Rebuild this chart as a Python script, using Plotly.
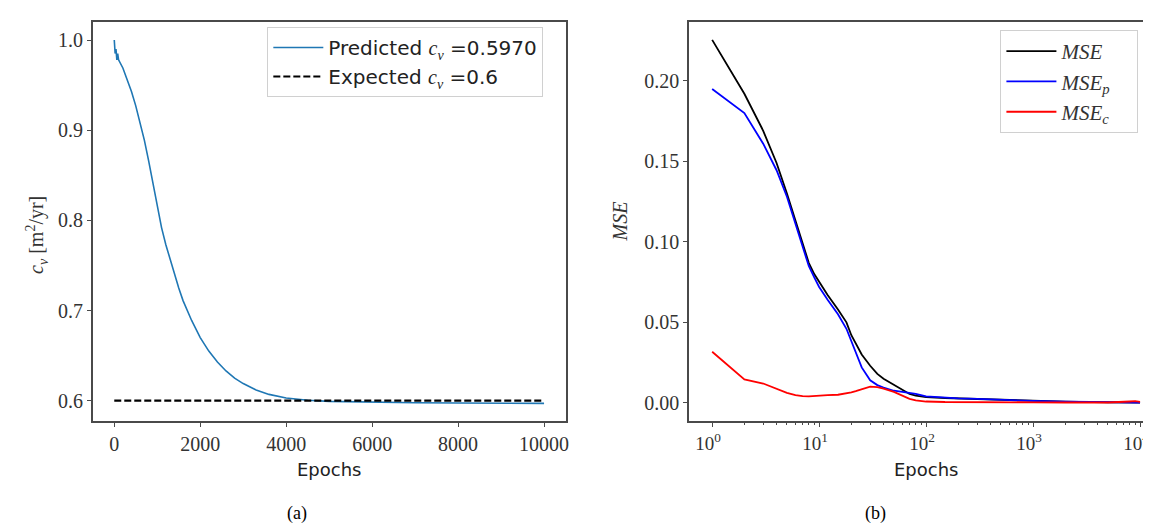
import plotly.graph_objects as go

# ---------------- data ----------------
cv_epochs = [0, 20, 40, 60, 80, 100, 200, 300, 400, 500, 600, 700, 800, 900, 1000, 1100,
             1200, 1300, 1400, 1500, 1600, 1800, 2000, 2200, 2400, 2600, 2800, 3000, 3300,
             3600, 4000, 4500, 5000, 6000, 7000, 8000, 9000, 10000]
cv_pred = [1.0, 0.985, 0.99, 0.978, 0.985, 0.978, 0.969, 0.957, 0.943, 0.927, 0.909, 0.889,
           0.866, 0.840, 0.814, 0.792, 0.773, 0.756, 0.740, 0.725, 0.711, 0.689, 0.670,
           0.655, 0.643, 0.633, 0.625, 0.619, 0.612, 0.607, 0.603, 0.6005, 0.5993, 0.5983,
           0.5977, 0.5974, 0.5972, 0.597]
exp_epochs = [0, 10000]
exp_vals = [0.6, 0.6]

mse_epochs = [1, 2, 3, 4, 5, 6, 7, 8, 9, 10, 12, 15, 18, 20, 22, 25, 30, 35, 40, 50, 60, 70,
              80, 100, 150, 200, 300, 500, 1000, 2000, 5000, 8000, 9000, 10000]
mse_total = [0.2255, 0.192, 0.169, 0.149, 0.130, 0.113, 0.098, 0.087, 0.080, 0.075, 0.067,
             0.058, 0.050, 0.042, 0.037, 0.030, 0.023, 0.018, 0.015, 0.011, 0.008, 0.0055,
             0.0045, 0.0035, 0.003, 0.0027, 0.0024, 0.0018, 0.0012, 0.0007, 0.0003, 0.0002,
             0.0002, 0.0002]
mse_p = [0.195, 0.180, 0.161, 0.1445, 0.128, 0.111, 0.096, 0.085, 0.078, 0.072, 0.064,
         0.055, 0.046, 0.038, 0.032, 0.022, 0.014, 0.011, 0.0095, 0.0075, 0.0068, 0.0062,
         0.0055, 0.0040, 0.003, 0.0027, 0.0024, 0.0018, 0.0012, 0.0007, 0.0003, 0.0002,
         0.0002, 0.0002]
mse_c = [0.0317, 0.0145, 0.012, 0.0089, 0.0062, 0.0048, 0.0041, 0.0040, 0.0043, 0.0046,
         0.0048, 0.0050, 0.0058, 0.0065, 0.0072, 0.0085, 0.0100, 0.0097, 0.0088, 0.0068,
         0.0045, 0.0025, 0.0015, 0.0008, 0.0005, 0.0004, 0.0003, 0.0003, 0.0003, 0.0002,
         0.0002, 0.0008, 0.0010, 0.0006]

left_xticks = [0, 2000, 4000, 6000, 8000, 10000]
left_yticks = [0.6, 0.7, 0.8, 0.9, 1.0]
right_xticks = [1, 10, 100, 1000, 10000]
right_xticktext = ["10<sup>0</sup>", "10<sup>1</sup>", "10<sup>2</sup>", "10<sup>3</sup>", "10<sup>4</sup>"]
right_yticks = [0.0, 0.05, 0.10, 0.15, 0.20]

# ---------------- style ----------------
W, H = 1151, 530
SERIF = "Liberation Serif"
SANS = "DejaVu Sans"
FRAME = "#4a4a4a"
TICKFONT = dict(family=SERIF, size=20, color="#333333")


def px_x(p):
    return p / W


def px_y(p):
    return 1 - p / H


CV = "<span style=\"font-family:'Liberation Serif';font-style:italic\">c<sub>v</sub></span>"
PAD = "&nbsp;" * 4

fig = go.Figure()

fig.add_trace(go.Scatter(
    x=cv_epochs, y=cv_pred, mode="lines", xaxis="x", yaxis="y",
    line=dict(color="#1f77b4", width=1.6),
    name="Predicted " + CV + " =0.5970",
    legend="legend", legendgroup="a1"))
fig.add_trace(go.Scatter(
    x=exp_epochs, y=exp_vals, mode="lines", xaxis="x", yaxis="y",
    line=dict(color="black", width=2.2, dash="7px,3px"),
    name="Expected " + CV + " =0.6",
    legend="legend", legendgroup="a2"))

for vals, col, nm, grp in [
    (mse_total, "black", "<i>MSE</i>", "b1"),
    (mse_p, "#0000ff", "<i>MSE<sub>p</sub></i>", "b2"),
    (mse_c, "#ff0000", "<i>MSE<sub>c</sub></i>", "b3"),
]:
    fig.add_trace(go.Scatter(
        x=mse_epochs, y=vals, mode="lines", xaxis="x2", yaxis="y2",
        line=dict(color=col, width=1.8), name=nm + PAD,
        legend="legend2", legendgroup=grp))

ydom = [px_y(413), px_y(14)]
axis_common = dict(showgrid=False, zeroline=False, showline=True, linecolor=FRAME,
                   linewidth=1.8, ticks="outside", ticklen=4, tickcolor=FRAME)

minor_vals = []
for dec in [1, 10, 100, 1000]:
    for m in range(2, 10):
        minor_vals.append(m * dec)

fig.update_layout(
    width=W, height=H,
    margin=dict(l=0, r=0, t=0, b=0),
    paper_bgcolor="white", plot_bgcolor="white",
    xaxis=dict(domain=[px_x(85), px_x(559)], range=[-500, 10500], anchor="y",
               tickvals=left_xticks, tickformat="d", mirror=True, tickfont=TICKFONT,
               **axis_common),
    yaxis=dict(domain=ydom, range=[0.5775, 1.020], anchor="x",
               tickvals=left_yticks, tickformat=".1f", mirror=True, tickfont=TICKFONT,
               **axis_common),
    xaxis2=dict(domain=[px_x(683), 1.0], type="log", range=[-0.2145, 4.149], anchor="y2",
                tickvals=right_xticks, ticktext=right_xticktext, mirror=True,
                ticklabeloverflow="allow", ticklabelshift=-4,
                tickfont=dict(family=SERIF, size=19, color="#333333"),
                minor=dict(ticks="outside", ticklen=2, tickcolor=FRAME, tickvals=minor_vals),
                **axis_common),
    yaxis2=dict(domain=ydom, range=[-0.0113, 0.2366], anchor="x2",
                tickvals=right_yticks, tickformat=".2f", mirror=False, tickfont=TICKFONT,
                **axis_common),
    legend=dict(x=px_x(260), y=px_y(19), xanchor="left", yanchor="top",
                bgcolor="rgba(255,255,255,0.8)", bordercolor="#d0d0d0", borderwidth=1,
                font=dict(family=SANS, size=20, color="#222222"),
                traceorder="grouped", tracegroupgap=0, itemwidth=50),
    legend2=dict(x=px_x(995), y=px_y(22), xanchor="left", yanchor="top",
                 bgcolor="rgba(255,255,255,0.8)", bordercolor="#d0d0d0", borderwidth=1,
                 font=dict(family=SERIF, size=21, color="#333333"),
                 traceorder="grouped", tracegroupgap=0, itemwidth=50),
    showlegend=True,
)

annotations = [
    dict(text="Epochs", x=px_x(322), y=px_y(461), font=dict(family=SANS, size=18, color="#222222")),
    dict(text="Epochs", x=px_x(921), y=px_y(461), font=dict(family=SANS, size=18, color="#222222")),
    dict(text="<i>c<sub>v</sub></i> [m<sup>2</sup>/yr]", x=px_x(29), y=px_y(227), textangle=-90,
         font=dict(family=SERIF, size=20, color="#333333")),
    dict(text="<i>MSE</i>", x=px_x(614), y=px_y(213), textangle=-90,
         font=dict(family=SERIF, size=20, color="#333333")),
    dict(text="(a)", x=px_x(290), y=px_y(505), font=dict(family=SERIF, size=18, color="black")),
    dict(text="(b)", x=px_x(870), y=px_y(505), font=dict(family=SERIF, size=18, color="black")),
]
for a in annotations:
    a.update(xref="paper", yref="paper", showarrow=False, xanchor="center", yanchor="middle")
fig.update_layout(annotations=annotations)

fig.write_html("out.html")
